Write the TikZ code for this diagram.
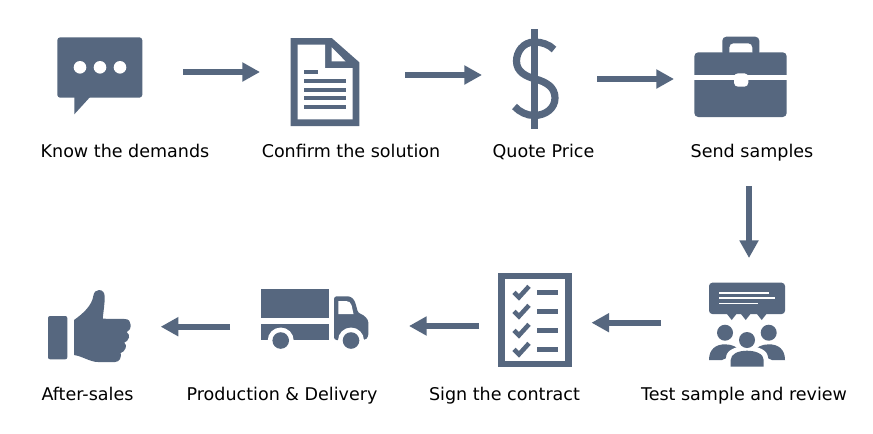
\documentclass[tikz,border=0pt]{standalone}
\usepackage{fontspec}
\setmainfont{DejaVu Sans}
\usetikzlibrary{arrows.meta}
\definecolor{ink}{HTML}{56677F}
\tikzset{
  ic/.style={fill=ink,draw=none},
  wh/.style={fill=white,draw=none},
  flow/.style={draw=ink,line width=4.5pt,-{Triangle[length=13.2pt,width=13.6pt]}},
  lab/.style={anchor=base,inner sep=0pt,font=\fontsize{13.15pt}{15pt}\selectfont,text=black},
}
\begin{document}
\begin{tikzpicture}[x=.75pt,y=-.75pt]
\useasboundingbox (0,0) rectangle (873,433);
\fill[white] (0,0) rectangle (873,433);

% chat
\fill[ic,rounded corners=2.2pt] (57.3,37.3) rectangle (142.3,97.7);
\fill[ic] (74.3,96) -- (74.3,114.3) -- (91,96) -- cycle;
\foreach \x in {80,100,120} \fill[wh] (\x,67.3) circle (6.3);

% document
\fill[ic] (290.7,38) -- (331.7,38) -- (359.3,62.3) -- (359.3,126) -- (290.7,126) -- cycle;
\fill[wh] (297.7,44.7) -- (325,44.7) -- (325,68) -- (352.7,68) -- (352.7,119.3) -- (297.7,119.3) -- cycle;
\fill[wh] (331.7,47.3) -- (331.7,61.3) -- (345.5,61.3) -- cycle;
\fill[ic] (304,70) rectangle (318.3,74);
\foreach \y in {81,89.7,98.3,107.3} \fill[ic] (304,\y-2) rectangle (346,\y+2);

% dollar
\fill[ic] (530.7,29.3) rectangle (538,129.3);
\draw[draw=ink,line width=5.4pt] (554,49.5) .. controls (549,44.5) and (542,42) .. (534.5,42)
  .. controls (523,42) and (516.5,52) .. (516.5,61)
  .. controls (516.5,72) and (526,76.5) .. (535.5,79)
  .. controls (546,82) and (555,87) .. (555,98)
  .. controls (555,108) and (546,115.5) .. (534,115.5)
  .. controls (527,115.5) and (519.5,112) .. (514.5,106.5);

% briefcase
\fill[ic,rounded corners=3pt] (722.3,56) -- (722.3,36.7) -- (759.3,36.7) -- (759.3,56) -- (752.3,56) -- (752.3,43.3) -- (729.3,43.3) -- (729.3,56) -- cycle;
\fill[ic,rounded corners=3pt] (694.3,52.3) rectangle (786.7,117);
\fill[wh] (690,75.3) rectangle (790,80);
\fill[wh,rounded corners=3pt] (734,73.3) rectangle (748.3,86.7);

% checklist
\fill[ic] (498,272.7) rectangle (571.7,367.3);
\fill[wh] (505,279.3) rectangle (565,360.7);
\foreach \y in {292.3,311.3,330.3,349.3} {
  \draw[draw=ink,line width=3.4pt] (514,\y) -- (519,\y+5) -- (529,\y-6);
  \fill[ic] (537.3,\y-2.5) rectangle (557.7,\y+2.5);
}

% review group
\fill[ic,rounded corners=2.5pt] (709,282.7) rectangle (785,314);
\foreach \x in {731.7,745.7,761.7} \fill[ic] (\x-5.5,313) -- (\x+5.5,313) -- (\x,320) -- cycle;
\fill[wh] (719.3,292.4) rectangle (768.7,293.9);
\fill[wh] (719.3,297.3) rectangle (775,298.8);
\fill[wh] (719.3,302.6) rectangle (758.3,304.1);
\fill[ic] (725,332.7) circle (8);
\fill[ic] (768.7,332.7) circle (8);
\fill[ic] (709,360) .. controls (709,349) and (716,344.3) .. (725,344.3) .. controls (732,344.3) and (738,347) .. (740,352) -- (722,360) -- cycle;
\fill[ic] (785,360) .. controls (785,349) and (778,344.3) .. (769,344.3) .. controls (762,344.3) and (756,347) .. (754,352) -- (772,360) -- cycle;
\fill[wh] (726,368) -- (726,358) .. controls (726,350) and (736,346) .. (747,346) .. controls (758,346) and (768,350) .. (768,358) -- (768,368) -- cycle;
\fill[ic] (747,340) circle (8);
\fill[ic] (730.7,366.7) -- (730.7,360) .. controls (730.7,354) and (738,350.7) .. (747,350.7) .. controls (756,350.7) and (763.7,354) .. (763.7,360) -- (763.7,366.7) -- cycle;

% truck
\fill[ic] (260.7,289) rectangle (329,318.3);
\fill[ic] (260.7,323.7) rectangle (329,340);
\fill[ic,rounded corners=2pt] (334,296.3) -- (345,296.3) .. controls (351,296.3) and (354,299) .. (356,305) -- (358,313) .. controls (364,315) and (368.3,319) .. (368.3,325) -- (368.3,337) -- (365,340) -- (334,340) -- cycle;
\fill[wh] (338.3,301) -- (346,301) .. controls (349,301) and (350.5,302.5) .. (351.5,305) -- (353.5,314) -- (338.3,314) -- cycle;
\fill[wh] (280.7,340.5) circle (13);
\fill[wh] (351,340.5) circle (13);
\fill[ic] (280.7,340.5) circle (8.3);
\fill[ic] (351,340.5) circle (8.3);

% thumb
\fill[ic,rounded corners=1.5pt] (48,316) rectangle (67.3,359.3);
\fill[ic] (74,320) .. controls (84,313) and (92,305) .. (93.3,296)
  .. controls (94,292) and (96,290) .. (99,290)
  .. controls (103,290) and (104.7,293) .. (104.7,297)
  .. controls (104.7,304) and (103.5,311) .. (102.7,318.7)
  -- (125,319) .. controls (129,319) and (130.7,322) .. (130.7,325)
  .. controls (130.7,329) and (129,331) .. (126.7,332)
  .. controls (129,334) and (129.5,335.5) .. (129,337.5)
  .. controls (128.5,340) and (126,342) .. (124.3,342.7)
  .. controls (126,344) and (126.3,346) .. (125.7,348)
  .. controls (125,350.5) and (122.5,352.5) .. (120.7,353)
  .. controls (121.5,357) and (120,362) .. (115,362)
  -- (98,362) .. controls (90,362) and (82,356) .. (74,355) -- cycle;

% connector ends
\coordinate (a1s) at (183,72);   \coordinate (a1e) at (260,72);
\coordinate (a2s) at (405,75);   \coordinate (a2e) at (482,75);
\coordinate (a3s) at (597,79);   \coordinate (a3e) at (674,79);
\coordinate (a4s) at (749,186);  \coordinate (a4e) at (749,258);
\coordinate (a5s) at (661,322.7);\coordinate (a5e) at (591.5,322.7);
\coordinate (a6s) at (479,326);  \coordinate (a6e) at (409,326);
\coordinate (a7s) at (230,326.7);\coordinate (a7e) at (160.7,326.7);
\foreach \n in {1,...,7} \draw[flow] (a\n s) -- (a\n e);

% labels
\node[lab] (t1) at (125,157.5) {Know the demands};
\node[lab] (t2) at (351,157.5) {Confirm the solution};
\node[lab] (t3) at (543.5,157.5) {Quote Price};
\node[lab] (t4) at (752,157.5) {Send samples};
\node[lab] (t5) at (744,400.5) {Test sample and review};
\node[lab] (t6) at (504.5,400.5) {Sign the contract};
\node[lab] (t7) at (282,400.5) {Production \& Delivery};
\node[lab] (t8) at (87.5,400.5) {After-sales};
\end{tikzpicture}
\end{document}
